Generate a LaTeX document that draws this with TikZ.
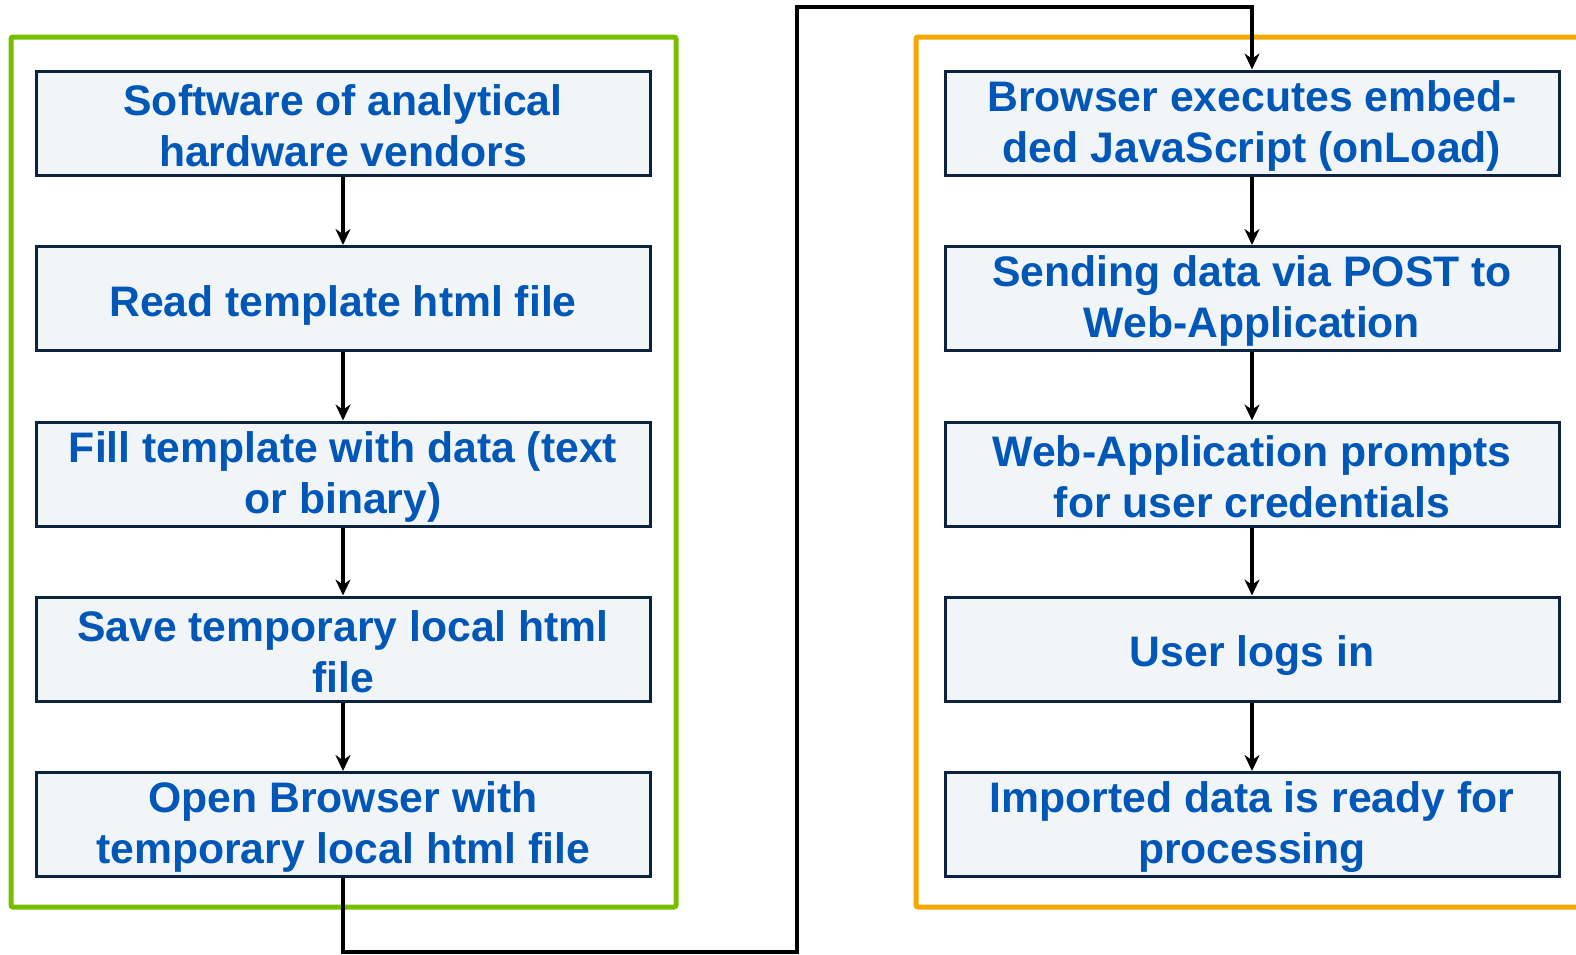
\documentclass[tikz,border=0pt]{standalone}
\usepackage{fontspec}
\setmainfont{Liberation Sans}
\usetikzlibrary{arrows.meta}
\definecolor{boxtext}{HTML}{0057B8}
\definecolor{boxline}{HTML}{0C2340}
\definecolor{boxfill}{HTML}{F2F5F7}
\definecolor{framegreen}{HTML}{78BE00}
\definecolor{frameorange}{HTML}{F5A800}
\begin{document}
\begin{tikzpicture}[x=1pt,y=-1pt,
  stepbox/.style={draw=boxline, line width=3pt, fill=boxfill,
    minimum width=614pt, minimum height=104pt, inner sep=0pt},
  steptext/.style={inner sep=0pt, align=center, text=boxtext,
    font=\fontsize{42.7}{51}\selectfont\bfseries},
  flow/.style={draw=black, line width=4pt,
    -{Stealth[length=16pt,width=15pt]}},
  frame/.style={line width=5pt, rounded corners=2pt}]
\useasboundingbox (0,0) rectangle (1576,954);

% group frames
\draw[frame, draw=framegreen] (11,37) rectangle (676,907);
\draw[frame, draw=frameorange] (916,37) rectangle (1600,907);

% left column
\node[stepbox] (l1) at (343,123)   {};
\node[stepbox] (l2) at (343,298.5) {};
\node[stepbox] (l3) at (343,474)   {};
\node[stepbox] (l4) at (343,649)   {};
\node[stepbox] (l5) at (343,824.5) {};
\node[steptext] (l1t) at ([yshift=-2.5pt]l1.center) {Software of analytical\\hardware vendors};
\node[steptext] (l2t) at ([yshift=-6.5pt]l2.center) {Read template html file};
\node[steptext] (l3t) at ([yshift=-2.5pt]l3.center) {Fill template with data (text\\or binary)};
\node[steptext] (l4t) at ([yshift=-2.5pt]l4.center) {Save temporary local html\\file};
\node[steptext] (l5t) at ([yshift=-2.5pt]l5.center) {Open Browser with\\temporary local html file};

% right column
\node[stepbox] (r1) at (1252,123)   {};
\node[stepbox] (r2) at (1252,298.5) {};
\node[stepbox] (r3) at (1252,474)   {};
\node[stepbox] (r4) at (1252,649)   {};
\node[stepbox] (r5) at (1252,824.5) {};
\node[steptext] (r1t) at ([yshift=-2.5pt]r1.center) {Browser executes embed-\\ded JavaScript (onLoad)};
\node[steptext] (r2t) at ([yshift=-2.5pt]r2.center) {Sending data via POST to\\Web-Application};
\node[steptext] (r3t) at ([yshift=-2.5pt]r3.center) {Web-Application prompts\\for user credentials};
\node[steptext] (r4t) at ([yshift=-6.5pt]r4.center) {User logs in};
\node[steptext] (r5t) at ([yshift=-2.5pt]r5.center) {Imported data is ready for\\processing};

\foreach \a/\b in {l1/l2,l2/l3,l3/l4,l4/l5,r1/r2,r2/r3,r3/r4,r4/r5}
  \draw[flow] (\a.south) -- (\b.north);

% link between the two groups
\coordinate (low) at (797,952);
\coordinate (high) at (1252,7);
\draw[flow] (l5.south) |- (low) |- (high) -- (r1.north);
\end{tikzpicture}
\end{document}
